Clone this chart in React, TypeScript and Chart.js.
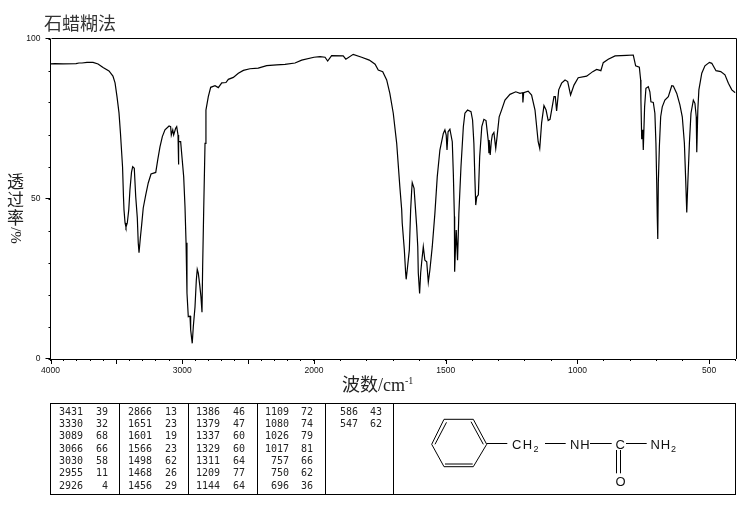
import React, { useEffect, useRef } from "react";
import { Chart, registerables } from "chart.js";

Chart.register(...registerables);

const titleText = "石蜡糊法";
const yTitleCjk = ["透", "过", "率"];
const yTitleUnit = "/%";

// [wavenumber cm-1, transmittance %]
const traceHighWave: number[][] = [
  [4000,92.2],[3966,92.3],[3905,92.2],[3806,92.3],[3784,92.5],[3761,92.5],[3723,92.7],[3677,92.7],[3639,92.2],[3601,91.1],
  [3556,90.0],[3526,88.4],[3510,86.3],[3495,81.9],[3480,76.9],[3469,70.6],[3453,60],[3446,50.6],[3442,46.6],[3434,42.5],
  [3427,41.2],[3417,42.5],[3406,46.6],[3397,52.8],[3385,58.4],[3376,60.1],[3364,59.6],[3353,50.7],[3341,44.1],[3334,36.3],
  [3328,33.2],[3318,37.8],[3308,41.9],[3296,47.2],[3277,51.3],[3258,55],[3237,57.8],[3201,58.3],[3186,62.2],[3169,66.3],
  [3151,69.5],[3131,71.6],[3100,72.8],[3088,72.6],[3083,70],[3072,71.6],[3065,70],[3050,72.1],[3042,72.6],[3032,70],
  [3030,60.8],[3025,67.9],[3012,67.9],
];
const traceCH: number[][] = [
  [3000,62.2],[2989,57],[2979,47.6],[2971,36.3],[2964,20.6],[2954,13.2],[2941,13.4],[2936,9.1],[2924,4.9],[2916,10.1],
  [2903,16.3],[2893,24.7],[2886,28],[2878,26.8],[2867,23.1],[2858,19.5],[2850,14.6],[2845,28.8],[2837,46.6],[2832,57],
  [2827,67.4],[2820,77.8],[2802,82],[2784,84.9],
];
const tracePlateau: number[][] = [
  [2751,85.4],[2726,84.8],[2700,86.3],[2668,86.4],[2650,87.4],[2612,88],[2574,89.3],[2536,90.2],[2486,90.7],[2423,90.9],
  [2359,91.7],[2283,91.9],[2220,92.1],[2144,92.5],[2093,93.4],[2000,94.3],[1977,94.5],[1958,94.3],[1948,93.1],[1933,94.8],
  [1889,94.7],[1879,93.7],[1851,95.2],[1819,94.3],[1790,93.4],[1768,92.1],[1756,90.3],[1739,89.8],[1724,87.2],[1712,83],
];
const traceAmide: number[][] = [
  [1699,76.8],[1686,67.4],[1674,53.8],[1667,46.6],[1665,42.5],[1657,34.1],[1652,26.9],[1650,24.9],[1646,27.8],[1638,34.1],
  [1633,46.6],[1629,52.8],[1627,55.1],[1620,53.3],[1610,41.3],[1606,35.1],[1604,26.9],[1599,20.5],[1595,26.9],[1591,30.4],
  [1585,35.1],[1579,30.9],[1572,30.4],[1566,24],[1560,27.8],[1551,35.1],[1541,45.5],[1532,57],[1522,65.3],[1509,70.5],
  [1503,71.6],[1498,70],[1495,65.3],[1491,71],[1484,71.8],[1475,67.9],[1471,58],[1467,44.5],[1466,27.3],[1464,32],
  [1460,40.3],[1455,30.9],[1450,45.5],[1442,60.1],[1433,72.6],[1427,76.8],[1417,77.8],[1404,77.3],[1398,74.7],[1393,67.4],
];
const traceFingerprint: number[][] = [
  [1389,55.9],[1386,48.1],[1382,50.7],[1376,51.3],[1371,63.2],[1363,72.6],[1355,74.9],[1347,74.5],[1338,67.9],[1336,64.3],
  [1335,68.4],[1331,63.8],[1327,67.9],[1323,70],[1317,70.8],[1310,65.8],[1305,69.5],[1297,75.7],[1287,78],[1275,80.9],
  [1256,82.7],[1234,83.5],[1218,83],[1208,83.2],[1207,80.2],[1204,83.2],[1187,83.7],[1174,82.5],[1161,77.8],[1149,67.9],
  [1143,65.8],[1136,73.7],[1127,79.2],[1119,77.8],[1111,74.5],[1104,74.9],[1089,82],[1084,82],[1079,77.5],[1071,84.1],
  [1060,86.2],[1047,87.2],[1037,86.7],[1026,82.5],[1013,85.6],[997,87.9],[965,88.4],[942,89.8],[927,90.5],[911,90.1],
];
const traceLowWave: number[][] = [
  [902,92.6],[883,93.7],[857,94.7],[813,94.9],[788,95],[779,91.6],[765,91.2],[760,87.2],[759,80.9],[756,68.7],
  [752,71.6],[750,65.3],[745,78.8],[740,84.6],[731,85.1],[725,83.5],[721,80.4],[712,80.2],[706,76.8],[702,67.4],
  [699,54.9],[697,44.5],[695,37.5],[693,54.9],[689,66.3],[684,75.7],[678,78.8],[668,80.9],[655,82],[642,85.4],
  [636,85.3],[623,83],[611,79.4],[602,75.7],[594,67.4],[589,55.9],[585,45.8],[581,54.9],[575,67.4],[569,76.8],
  [560,80.9],[554,79.9],[549,75.7],[547,64.6],[543,77.8],[539,84.1],[528,89.3],[516,91.6],[499,92.7],[490,92.4],
  [474,90.1],[456,89.8],[440,88.8],[427,86.2],[414,84.1],[402,83.3],[400,83.2],
];

const xTickWaves = [
  4000,3900,3800,3700,3600,3500,3400,3300,3200,3100,3000,2900,2800,2700,2600,2500,2400,2300,2200,2100,2000,
  1900,1800,1700,1600,1500,1400,1300,1200,1100,1000,900,800,700,600,500,400,
];
const xLabelledWaves = [4000, 3000, 2000, 1500, 1000, 500];
const xLongTickWaves = [4000, 3500, 3000, 2500, 2000, 1500, 1000, 500];
const yLabelled = [0, 50, 100];

// Peak table, in reading order, seven rows per column
const peakWaves = [
  3431,3330,3089,3066,3030,2955,2926,
  2866,1651,1601,1566,1498,1468,1456,
  1386,1379,1337,1329,1311,1209,1144,
  1109,1080,1026,1017,757,750,696,
  586,547,
];
const peakTrans = [
  39,32,68,66,58,11,4,
  13,23,19,23,62,26,29,
  46,47,60,60,64,77,64,
  72,74,79,81,66,62,36,
  43,62,
];

// The wavenumber axis doubles its scale below 2000 cm-1
const toAxis = (w: number) => (w >= 2000 ? 4000 - w : 2000 + (2000 - w) * 2);
const fromAxis = (a: number) => (a <= 2000 ? 4000 - a : 2000 - (a - 2000) / 2);

const mono = '"DejaVu Sans Mono", monospace';
const rowTop = (i: number) => 405.7 + 12.33 * i;
const colNumRight = [83, 152, 220, 289, 358];
const colValRight = [108, 177, 245, 313, 382];
const rules = [50.5, 119.5, 188.5, 257.5, 325.5, 393.5];

const extraAxes = {
  id: "extraAxes",
  afterDraw(chart: any) {
    const { ctx, chartArea: a, scales } = chart;
    ctx.save();
    ctx.strokeStyle = "#000";
    ctx.lineWidth = 1;
    ctx.beginPath();
    ctx.moveTo(Math.round(a.left) + 0.5, Math.round(a.top) - 0.5);
    ctx.lineTo(Math.round(a.right) + 0.5, Math.round(a.top) - 0.5);
    ctx.lineTo(Math.round(a.right) + 0.5, Math.round(a.bottom));
    for (const w of xLongTickWaves) {
      const px = Math.round(scales.x.getPixelForValue(toAxis(w))) + 0.5;
      ctx.moveTo(px, a.bottom);
      ctx.lineTo(px, a.bottom + 5);
    }
    for (const v of yLabelled) {
      const py = Math.round(scales.y.getPixelForValue(v)) - 0.5;
      ctx.moveTo(a.left, py);
      ctx.lineTo(a.left - 5, py);
    }
    ctx.stroke();
    ctx.restore();
  },
};

const textBase: React.CSSProperties = { position: "absolute", whiteSpace: "nowrap", color: "#111" };

function PeakTable() {
  return (
    <>
      <svg
        width={738}
        height={510}
        style={{ position: "absolute", left: 0, top: 0 }}
        stroke="#000"
        fill="none"
        strokeWidth={1}
      >
        <rect x={50.5} y={403.5} width={685} height={91} />
        {rules.map((x) => (
          <line key={x} x1={x} y1={403.5} x2={x} y2={494.5} />
        ))}
        <polygon points="431.7,444.3 444,419.3 473.3,419.3 486.7,444.3 473.3,466.7 444,466.7" />
        <line x1={435} y1={444.3} x2={446.5} y2={422.3} />
        <line x1={445} y1={464} x2={472.7} y2={464} />
        <line x1={471} y1={421.7} x2={483.3} y2={444.3} />
        <line x1={486.7} y1={443.5} x2={507.3} y2={443.5} />
        <line x1={545} y1={443.5} x2={565.7} y2={443.5} />
        <line x1={590} y1={443.5} x2={611.7} y2={443.5} />
        <line x1={626} y1={443.5} x2={646.7} y2={443.5} />
        <line x1={616.5} y1={450} x2={616.5} y2={473.3} />
        <line x1={620.5} y1={450} x2={620.5} y2={473.3} />
        <g stroke="none" fill="#111" fontFamily='"Liberation Sans", sans-serif' fontSize={13}>
          <text x={512} y={448.5} letterSpacing={1.4}>
            CH<tspan fontSize={9} dy={3}>2</tspan>
          </text>
          <text x={570} y={448.5} letterSpacing={0.8}>NH</text>
          <text x={615.5} y={448.5}>C</text>
          <text x={650.5} y={448.5} letterSpacing={0.8}>
            NH<tspan fontSize={9} dy={3}>2</tspan>
          </text>
          <text x={615.5} y={486}>O</text>
        </g>
      </svg>
      {peakWaves.map((w, i) => {
        const col = Math.floor(i / 7);
        const row = i % 7;
        const common: React.CSSProperties = {
          ...textBase,
          top: rowTop(row),
          font: `10px/12px ${mono}`,
          textAlign: "right",
          color: "#222",
        };
        return (
          <React.Fragment key={w}>
            <span style={{ ...common, right: 738 - colNumRight[col] }}>{w}</span>
            <span style={{ ...common, right: 738 - colValRight[col] }}>{peakTrans[i]}</span>
          </React.Fragment>
        );
      })}
    </>
  );
}

export default function App() {
  const ref = useRef<HTMLCanvasElement>(null);

  useEffect(() => {
    const trace = [
      ...traceHighWave,
      ...traceCH,
      ...tracePlateau,
      ...traceAmide,
      ...traceFingerprint,
      ...traceLowWave,
    ];
    const tickFont = { family: '"Liberation Sans", sans-serif', size: 8.5 };
    const chart = new Chart(ref.current as HTMLCanvasElement, {
      type: "line",
      data: {
        datasets: [
          {
            label: "Transmittance",
            data: trace.map(([w, t]) => ({ x: toAxis(w), y: t })),
            borderColor: "#000",
            borderWidth: 1.2,
            pointRadius: 0,
            tension: 0,
            fill: false,
          },
        ],
      },
      options: {
        responsive: false,
        animation: false,
        devicePixelRatio: 1,
        layout: { padding: { left: 0, right: 2.5, top: 39, bottom: 115 } },
        plugins: {
          legend: { display: false },
          tooltip: { enabled: false },
          title: { display: false },
        },
        scales: {
          x: {
            type: "linear",
            min: 0,
            max: toAxis(400),
            border: { color: "#000", width: 1 },
            grid: { drawOnChartArea: false, drawTicks: true, tickLength: 2, tickColor: "#000", tickWidth: 1 },
            ticks: {
              autoSkip: false,
              maxRotation: 0,
              minRotation: 0,
              padding: 5,
              color: "#111",
              font: tickFont,
              callback: (v: any) => {
                const w = Math.round(fromAxis(Number(v)));
                return xLabelledWaves.includes(w) ? String(w) : "";
              },
            },
            afterBuildTicks: (scale: any) => {
              scale.ticks = xTickWaves.map((w) => ({ value: toAxis(w) }));
            },
            afterFit: (scale: any) => {
              scale.height = 36;
              scale.paddingLeft = 0;
              scale.paddingRight = 0;
            },
          },
          y: {
            type: "linear",
            min: 0,
            max: 100,
            border: { color: "#000", width: 1 },
            grid: { drawOnChartArea: false, drawTicks: true, tickLength: 2, tickColor: "#000", tickWidth: 1 },
            ticks: {
              stepSize: 10,
              padding: 8,
              color: "#111",
              font: tickFont,
              callback: (v: any) => (yLabelled.includes(Number(v)) ? String(v) : ""),
            },
            afterFit: (scale: any) => {
              scale.width = 50.5;
              scale.paddingTop = 0;
              scale.paddingBottom = 0;
            },
          },
        },
      },
      plugins: [extraAxes],
    } as any);
    return () => chart.destroy();
  }, []);

  return (
    <div style={{ position: "absolute", left: 0, top: 0, width: 738, height: 510, background: "#fff" }}>
      <canvas ref={ref} width={738} height={510} style={{ display: "block", position: "absolute", left: 0, top: 0 }} />
      <PeakTable />
      <span
        style={{
          ...textBase,
          left: 44,
          top: 13,
          font: '18px/18px "Noto Sans CJK SC", sans-serif',
          color: "#333",
        }}
      >
        {titleText}
      </span>
      {yTitleCjk.map((ch, i) => (
        <span
          key={ch}
          style={{
            ...textBase,
            left: 7,
            top: 172 + i * 18,
            font: '17px/18px "Noto Sans CJK SC", sans-serif',
            color: "#222",
          }}
        >
          {ch}
        </span>
      ))}
      <span
        style={{
          ...textBase,
          left: 7,
          top: 227,
          width: 17,
          height: 17,
          font: '15px/17px "Liberation Serif", serif',
          color: "#222",
          textAlign: "center",
          transform: "rotate(90deg)",
        }}
      >
        {yTitleUnit}
      </span>
      <span
        style={{
          ...textBase,
          left: 342,
          top: 375,
          font: '18px/20px "Liberation Serif", "Noto Sans CJK SC", serif',
          color: "#222",
        }}
      >
        波数/cm
        <span style={{ fontSize: 10, position: "relative", top: -7 }}>-1</span>
      </span>
    </div>
  );
}
